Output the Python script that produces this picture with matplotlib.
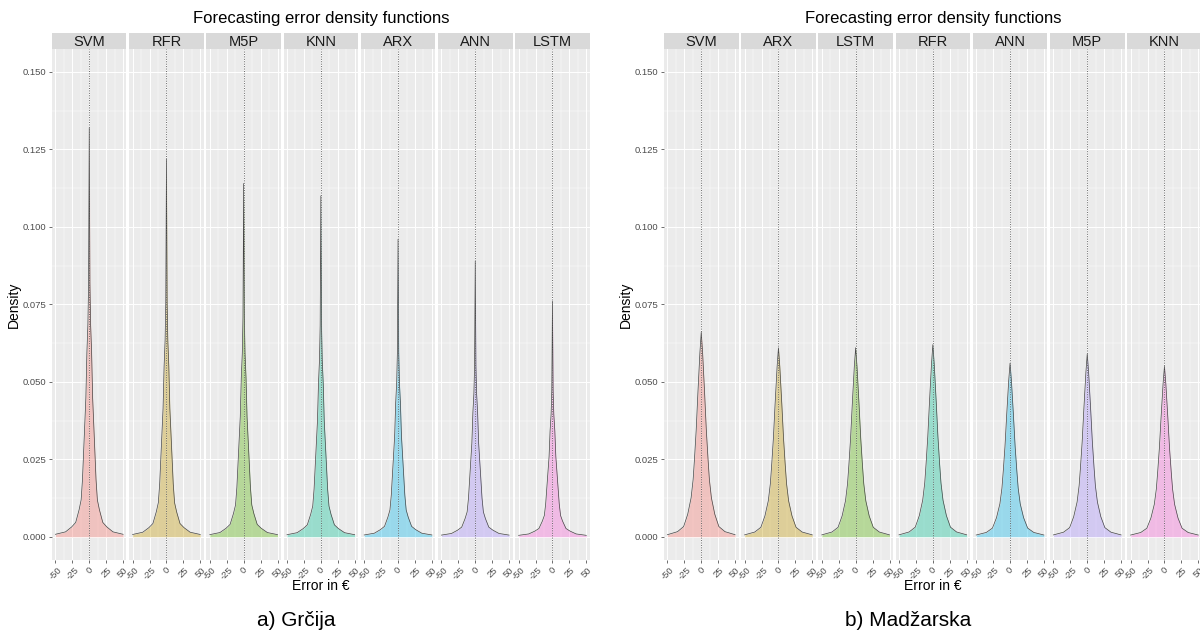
import numpy as np
import matplotlib
matplotlib.use('Agg')
import matplotlib.pyplot as plt

plt.rcParams['font.family'] = ['Liberation Sans', 'DejaVu Sans']

# values
greece_models = ['SVM', 'RFR', 'M5P', 'KNN', 'ARX', 'ANN', 'LSTM']
greece_peaks = [0.132, 0.122, 0.114, 0.110, 0.096, 0.089, 0.076]
hungary_models = ['SVM', 'ARX', 'LSTM', 'RFR', 'ANN', 'M5P', 'KNN']
hungary_peaks = [0.066, 0.061, 0.061, 0.062, 0.056, 0.059, 0.055]

# curve profile (fraction of the peak) at distance |error| from 0
offsets = [0, 1, 2, 3.5, 5, 7.5, 10, 12, 15, 20, 26, 35, 50]
greece_shape = [1.0, 0.62, 0.52, 0.45, 0.34, 0.24, 0.14, 0.09, 0.066, 0.035, 0.024, 0.012, 0.006]
hungary_shape = [1.0, 0.95, 0.9, 0.8, 0.7, 0.52, 0.38, 0.28, 0.19, 0.11, 0.05, 0.025, 0.01]

hue_cols = ['#F8766D', '#C49A00', '#53B400', '#00C094', '#00B6EB', '#A58AFF', '#FB61D7']
y_ticks = [0.0, 0.025, 0.05, 0.075, 0.1, 0.125, 0.15]
x_ticks = [-50, -25, 0, 25, 50]

W, H = 1200, 638
fig = plt.figure(figsize=(W / 100, H / 100), dpi=100)


def px_axes(left, top, w, h):
    return fig.add_axes([left / W, 1 - (top + h) / H, w / W, h / H])


def draw_block(x0, models, peaks, shape, caption):
    fw, gap = 74.5, 2.7
    top, bottom = 49, 560
    xs = np.array([-o for o in offsets[::-1]] + offsets[1:])
    rel = np.array(shape[::-1] + shape[1:])
    for i, (m, pk) in enumerate(zip(models, peaks)):
        left = x0 + i * (fw + gap)
        ax = px_axes(left, top, fw, bottom - top)
        ax.set_facecolor('#EBEBEB')
        for s in ax.spines.values():
            s.set_visible(False)
        ax.set_xlim(-55, 55)
        ax.set_ylim(-0.0075, 0.1574)
        ax.set_xticks(x_ticks)
        ax.set_xticks([-37.5, -12.5, 12.5, 37.5], minor=True)
        ax.set_yticks(y_ticks)
        ax.set_yticks([0.0125, 0.0375, 0.0625, 0.0875, 0.1125, 0.1375], minor=True)
        ax.grid(True, which='major', color='white', lw=0.7)
        ax.grid(True, which='minor', color='white', lw=0.35)
        ax.set_axisbelow(True)
        ax.tick_params(which='minor', length=0)
        ax.tick_params(which='major', length=2.5, width=0.5, color='#333333',
                       labelsize=6.8, labelcolor='#4D4D4D', pad=1.5)
        ax.set_xticklabels([str(t) for t in x_ticks], rotation=45, ha='center', va='top')
        if i == 0:
            ax.set_yticklabels(['%.3f' % t for t in y_ticks])
        else:
            ax.tick_params(axis='y', length=0, labelleft=False)
        ys = rel * pk
        ax.fill_between(xs, 0, ys, color=hue_cols[i], alpha=0.35, lw=0)
        ax.plot(xs, ys, color='#444444', lw=0.5)
        ax.axvline(0, color='#666666', lw=0.7, ls=(0, (1, 1.5)))
        sx = px_axes(left, 33, fw, 16)
        sx.set_facecolor('#D9D9D9')
        sx.set_xticks([])
        sx.set_yticks([])
        for s in sx.spines.values():
            s.set_visible(False)
        sx.text(0.5, 0.45, m, ha='center', va='center', fontsize=10.5,
                color='#1A1A1A', transform=sx.transAxes)
    full = 7 * fw + 6 * gap
    cx = (x0 + x0 + full) / 2
    fig.text(cx / W, 1 - 19 / H, 'Forecasting error density functions',
             ha='center', va='center', fontsize=12)
    fig.text(cx / W, 1 - 586 / H, 'Error in €', ha='center', va='center', fontsize=10)
    fig.text((x0 - 38) / W, 1 - 305 / H, 'Density', ha='center', va='center',
             fontsize=10, rotation=90)
    fig.text((cx - 25) / W, 1 - 621 / H, caption, ha='center', va='center', fontsize=15)


draw_block(52, greece_models, greece_peaks, greece_shape, 'a) Grčija')
draw_block(664, hungary_models, hungary_peaks, hungary_shape, 'b) Madžarska')

fig.savefig('out.png', dpi=100, facecolor='white')
